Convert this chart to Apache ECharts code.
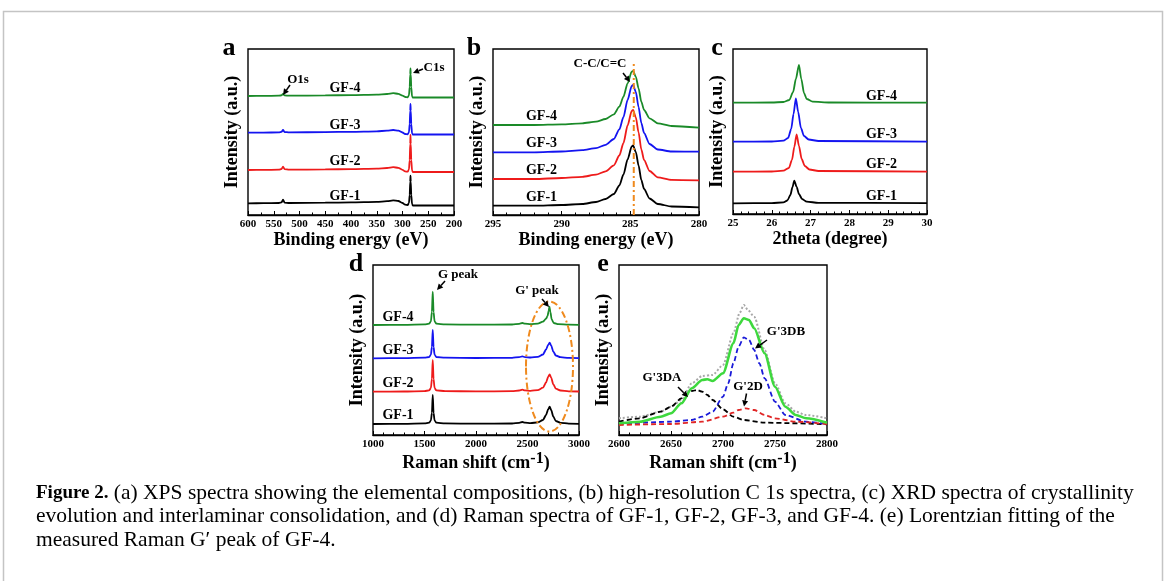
<!DOCTYPE html>
<html>
<head>
<meta charset="utf-8">
<title>Figure 2</title>
<script src="https://cdn.jsdelivr.net/npm/echarts@6/dist/echarts.min.js"></script>
<style>
  html, body { margin: 0; padding: 0; background: #fff; }
  #chart { width: 1167px; height: 581px; }
</style>
</head>
<body>
<div id="chart"></div>
<script>
// ---- (a) XPS survey, binding energy (eV) vs intensity (a.u., offset stacked)
const xpsGF1 = [[600,11.7],[570,11.8],[540,12],[535,12.6],[532,15.3],[529,12.4],[520,12],[450,12.3],[400,12.6],[350,13.1],[330,13.8],[318,14.6],[308,14],[300,12],[295,10.3],[290,10],[287.5,12],[286,20],[285,33],[284.5,39.3],[284,33],[283,20],[281.5,11],[280,9.5],[200,9.5]];
const xpsGF2 = [[600,45],[570,45.1],[540,45.3],[535,46],[532,48.3],[529,45.8],[520,45.3],[450,45.6],[400,45.9],[350,46.4],[330,47],[318,47.8],[308,47.2],[300,45.2],[295,43.6],[290,43.3],[287.5,45.5],[286,55],[285,71],[284.5,80],[284,71],[283,55],[281.5,44.5],[280,43],[200,43]];
const xpsGF3 = [[600,82.3],[570,82.4],[540,82.6],[535,83.1],[532,85],[529,83],[520,82.6],[450,82.9],[400,83.2],[350,83.7],[330,84.3],[318,85],[308,84.4],[300,82.5],[295,81],[290,80.7],[287.5,82.5],[286,91],[285,104],[284.5,111],[284,104],[283,91],[281.5,81.5],[280,80.5],[200,80.5]];
const xpsGF4 = [[600,119],[570,119.1],[540,119.3],[535,119.7],[532,121],[529,119.6],[520,119.3],[450,119.6],[400,119.9],[350,120.4],[330,121],[318,121.8],[308,121.2],[300,119.3],[295,118],[290,117.7],[287.5,119.5],[286,128],[285,140.5],[284.5,146.7],[284,140.5],[283,128],[281.5,118.5],[280,117.5],[200,117.5]];

// ---- (b) high-resolution C 1s
const c1sGF1 = [[295,9.3],[292,9.3],[290,10],[288.5,11],[287.5,13],[286.8,16],[286.2,21],[285.8,29.5],[285.5,40.5],[285.2,55.5],[284.9,68.5],[284.8,69.5],[284.6,63],[284.4,49.5],[284.2,35],[284,26],[283.6,16.5],[283,11],[282,8.5],[280,7.7]];
const c1sGF2 = [[295,36],[292,36],[290,37],[288.5,38.2],[287.5,40.3],[286.8,43.7],[286.2,49.7],[285.8,59.5],[285.5,72],[285.2,89.5],[284.9,104],[284.8,105],[284.6,97.7],[284.4,82.6],[284.2,65.5],[284,55],[283.6,44],[283,37.6],[282,35.2],[280,34.7]];
const c1sGF3 = [[295,62.7],[292,62.7],[290,63.5],[288.5,64.8],[287.5,66.8],[286.8,70.2],[286.2,76],[285.8,85.6],[285.5,98],[285.2,115],[284.9,129],[284.8,130],[284.6,123],[284.4,108],[284.2,92],[284,82],[283.6,71],[283,65.5],[282,63.5],[280,63.3]];
const c1sGF4 = [[295,90],[292,90],[290,90.7],[288.5,91.7],[287.5,93.3],[286.8,96],[286.2,100.7],[285.8,108.3],[285.5,118.3],[285.2,131.7],[284.9,143.3],[284.8,144],[284.6,138.3],[284.4,126.7],[284.2,113.3],[284,105],[283.6,96.7],[283,91.7],[282,89],[280,87.3]];
const ccGuide = [[284.75,0],[284.75,153]];

// ---- (c) XRD, 2theta (degree)
const xrdGF1 = [[25,10.7],[26,10.9],[26.3,11.6],[26.4,13.5],[26.48,19],[26.53,26.5],[26.58,33.3],[26.64,27],[26.7,20],[26.78,15],[26.9,12.3],[27.2,11.2],[30,10.8]];
const xrdGF2 = [[25,42.3],[26,42.5],[26.3,43.3],[26.44,46],[26.52,54],[26.58,67],[26.64,79.7],[26.7,68],[26.77,55],[26.85,48],[26.97,44.5],[27.2,43],[30,42.3]];
const xrdGF3 = [[25,72.3],[26,72.5],[26.3,73.3],[26.42,76],[26.5,85],[26.56,100],[26.62,115.7],[26.68,102],[26.75,86],[26.83,78],[26.95,74.5],[27.2,73],[30,72.3]];
const xrdGF4 = [[25,111.3],[26,111.5],[26.3,112],[26.45,114],[26.55,122],[26.62,135],[26.7,149],[26.76,135],[26.83,121],[26.9,115],[27.05,112.3],[27.5,111.5],[30,111.3]];

// ---- (d) Raman, shift (cm-1)
const ramanGF1 = [[1000,11],[1300,11.2],[1500,11.6],[1545,12.3],[1562,14.5],[1572,22],[1580,40],[1588,22],[1598,14.5],[1615,12.3],[1700,11.6],[2000,11.3],[2350,11.5],[2420,12.2],[2450,13],[2475,12.3],[2530,11.9],[2600,12.6],[2650,15],[2680,20],[2700,25.5],[2715,28.3],[2730,25],[2750,18.5],[2775,14],[2820,12.2],[2900,11.4],[3000,11.2]];
const ramanGF2 = [[1000,43.3],[1300,43.5],[1500,43.9],[1545,44.6],[1562,47],[1572,56],[1580,75],[1588,56],[1598,47],[1615,44.6],[1700,43.9],[2000,43.6],[2350,43.8],[2420,44.5],[2450,45.3],[2475,44.6],[2530,44.2],[2600,44.9],[2650,47.3],[2680,52.5],[2700,58],[2715,60.7],[2730,57.3],[2750,50.8],[2775,46.3],[2820,44.5],[2900,43.7],[3000,43.5]];
const ramanGF3 = [[1000,76.7],[1300,76.9],[1500,77.3],[1545,78],[1562,80.3],[1572,88],[1580,105],[1588,88],[1598,80.3],[1615,78],[1700,77.3],[2000,77],[2350,77.2],[2420,77.9],[2450,78.6],[2475,77.9],[2530,77.5],[2600,78.2],[2650,80.5],[2680,85.5],[2700,90],[2715,92.3],[2730,89.5],[2750,83.5],[2775,79.5],[2820,77.8],[2900,77.1],[3000,76.9]];
const ramanGF4 = [[1000,110],[1300,110.2],[1500,110.6],[1545,111.3],[1562,113.6],[1572,123],[1580,143.3],[1588,123],[1598,113.6],[1615,111.3],[1700,110.6],[2000,110.3],[2350,110.5],[2420,111.2],[2450,112],[2475,111.3],[2530,110.9],[2600,111.4],[2650,113.3],[2680,116.3],[2695,119],[2705,124],[2713,128.3],[2722,123],[2735,115.5],[2755,112],[2800,110.8],[2900,110.4],[3000,110.2]];

// ---- (e) Lorentzian fit of G' peak (GF-4)
const gMeasured = [[2600,16.7],[2620,18.3],[2640,23.3],[2650,28.3],[2660,35],[2670,51.7],[2680,59],[2690,60],[2700,70],[2710,101.7],[2716,122],[2720,130],[2724,125],[2730,118.3],[2740,85],[2750,51.7],[2760,31.7],[2770,23.3],[2780,20],[2800,16.7]];
const gFit = [[2600,11.7],[2620,13.3],[2640,18.3],[2650,21.7],[2660,31.7],[2670,46.7],[2680,55],[2685,55.7],[2690,54],[2700,61.7],[2710,91.7],[2715,110],[2720,116.7],[2725,115],[2730,106.7],[2740,81.7],[2750,48.3],[2760,28.3],[2770,20],[2780,16.7],[2800,12.3]];
const g3DB = [[2600,11],[2650,13.3],[2670,15],[2680,18.3],[2690,23.3],[2700,38.3],[2705,51.7],[2710,71.7],[2715,88.3],[2720,97.7],[2725,95],[2730,85],[2735,71.7],[2740,56.7],[2750,33.3],[2760,20],[2780,13.3],[2800,11]];
const g3DA = [[2600,13.3],[2620,16.7],[2640,23.3],[2650,28.3],[2660,36.7],[2665,41],[2670,44],[2675,45],[2680,43.3],[2685,40],[2690,35],[2700,25.7],[2710,18.3],[2720,15],[2740,12.3],[2800,10.7]];
const g2D = [[2600,10],[2650,11],[2680,13.3],[2700,18.3],[2710,22.3],[2715,25],[2722,26.7],[2730,25],[2740,20],[2750,16.7],[2770,13.3],[2800,11]];

const sampleNames = ['GF-1', 'GF-2', 'GF-3', 'GF-4'];
const caption = [
  '{b|Figure 2.} (a) XPS spectra showing the elemental compositions, (b) high-resolution C 1s spectra, (c) XRD spectra of crystallinity',
  'evolution and interlaminar consolidation, and (d) Raman spectra of GF-1, GF-2, GF-3, and GF-4. (e) Lorentzian fitting of the',
  'measured Raman G\u2032 peak of GF-4.'
];

const FONT = '"Liberation Serif", "Times New Roman", serif';
const colors = ['#000000', '#ee1b1b', '#1414f0', '#1a8a28'];

const chart = echarts.init(document.getElementById('chart'));

// grids: a, b, c, d, e
const grids = [
  { left: 248, top: 49, width: 206, height: 166 },
  { left: 493, top: 49, width: 206, height: 166 },
  { left: 733, top: 49, width: 194, height: 165 },
  { left: 373, top: 265, width: 206, height: 170 },
  { left: 619, top: 265, width: 208, height: 170 }
];

function xAxis(i, min, max, interval, minorSplit, inverse, name) {
  return {
    gridIndex: i, type: 'value', min, max, interval, inverse,
    axisLine: { show: true, lineStyle: { color: '#000', width: 1.4 } },
    axisTick: { show: true, inside: true, length: 4, lineStyle: { color: '#000', width: 1 } },
    minorTick: { show: true, splitNumber: minorSplit, length: 2.5, lineStyle: { color: '#000', width: 1 } },
    axisLabel: { margin: 4, fontSize: 11, fontWeight: 'bold', fontFamily: FONT, color: '#000', formatter: v => String(v) },
    splitLine: { show: false },
    name, nameLocation: 'middle', nameGap: 15,
    nameTextStyle: {
      fontSize: 18, fontWeight: 'bold', fontFamily: FONT, color: '#000',
      rich: { sup: { fontSize: 16, fontWeight: 'bold', fontFamily: FONT, padding: [0, 0, 8, 0] } }
    }
  };
}

function yAxis(i, h) {
  return {
    gridIndex: i, type: 'value', min: 0, max: h,
    axisLine: { show: false }, axisTick: { show: false }, axisLabel: { show: false },
    splitLine: { show: false },
    name: 'Intensity (a.u.)', nameLocation: 'middle', nameGap: 7,
    nameTextStyle: { fontSize: 18, fontWeight: 'bold', fontFamily: FONT, color: '#000' }
  };
}

function spec(i, data, color, extra) {
  return Object.assign({
    type: 'line', xAxisIndex: i, yAxisIndex: i, data,
    symbol: 'none', smooth: 0.25, smoothMonotone: 'x',
    lineStyle: { color, width: 1.8 }, silent: true
  }, extra || {});
}

const series = [];
[xpsGF1, xpsGF2, xpsGF3, xpsGF4].forEach((d, k) => series.push(spec(0, d, colors[k])));
[c1sGF1, c1sGF2, c1sGF3, c1sGF4].forEach((d, k) => series.push(spec(1, d, colors[k])));
series.push(spec(1, ccGuide, '#ef8a1e', { smooth: false, lineStyle: { color: '#ef8a1e', width: 2, type: [6, 3, 2, 3] } }));
[xrdGF1, xrdGF2, xrdGF3, xrdGF4].forEach((d, k) => series.push(spec(2, d, colors[k])));
[ramanGF1, ramanGF2, ramanGF3, ramanGF4].forEach((d, k) => series.push(spec(3, d, colors[k])));
series.push(spec(4, gMeasured, '#a8a8a8', { lineStyle: { color: '#a8a8a8', width: 2, type: [2, 2] } }));
series.push(spec(4, g3DA, '#000', { lineStyle: { color: '#000', width: 1.8, type: [5, 3] } }));
series.push(spec(4, g3DB, '#1a1ad8', { lineStyle: { color: '#1a1ad8', width: 1.8, type: [5, 3] } }));
series.push(spec(4, g2D, '#e02626', { lineStyle: { color: '#e02626', width: 1.8, type: [5, 3] } }));
series.push(spec(4, gFit, '#3ed83e', { lineStyle: { color: '#3ed83e', width: 2.6 } }));

// annotation helpers
function txt(x, y, text, size, extra) {
  return {
    type: 'text', x, y, z: 100,
    style: Object.assign({ text, font: 'bold ' + size + 'px ' + FONT, fill: '#000', align: 'center', verticalAlign: 'middle' }, extra || {})
  };
}
function arrow(x1, y1, x2, y2) {
  const a = Math.atan2(y2 - y1, x2 - x1), h = 6, w = 3;
  const bx = x2 - h * Math.cos(a), by = y2 - h * Math.sin(a);
  return [
    { type: 'line', z: 100, shape: { x1, y1, x2: bx, y2: by }, style: { stroke: '#000', lineWidth: 1.5 } },
    { type: 'polygon', z: 100, shape: { points: [[x2, y2], [bx - w * Math.sin(a), by + w * Math.cos(a)], [bx + w * Math.sin(a), by - w * Math.cos(a)]] }, style: { fill: '#000' } }
  ];
}

const labelPos = {
  a: [[345, 196], [345, 161.5], [345, 125], [345, 88]],
  b: [[541.5, 197], [541.5, 170], [541.5, 143], [541.5, 116.5]],
  c: [[881.5, 196.5], [881.5, 164], [881.5, 134], [881.5, 96]],
  d: [[398, 415.5], [398, 383], [398, 350], [398, 317]]
};

const graphic = [
  { type: 'rect', z: 1, shape: { x: 3.5, y: 11.5, width: 1159, height: 620 }, style: { fill: 'none', stroke: '#c4c4c4', lineWidth: 1.5 } },
  txt(229, 48, 'a', 26), txt(474, 48, 'b', 26), txt(717, 48, 'c', 26),
  txt(356, 264, 'd', 26), txt(603, 264, 'e', 26),
  txt(298, 80, 'O1s', 13), txt(434, 68, 'C1s', 13),
  ...arrow(290, 85, 283, 95), ...arrow(423, 69, 413, 73),
  txt(600, 64, 'C-C/C=C', 13), ...arrow(623, 73, 630, 82),
  txt(458, 275, 'G peak', 13), ...arrow(445, 281, 437, 290),
  txt(537, 291, "G' peak", 13), ...arrow(542, 299, 549, 307),
  { type: 'ellipse', z: 90, shape: { cx: 549.5, cy: 366.5, rx: 23.5, ry: 65 }, style: { fill: 'none', stroke: '#ef8a1e', lineWidth: 2, lineDash: [7, 3, 2, 3] } },
  txt(662, 378, "G'3DA", 13), ...arrow(678, 387, 688, 397),
  txt(786, 332, "G'3DB", 13), ...arrow(767, 340, 755, 348.5),
  txt(748, 387, "G'2D", 13), ...arrow(746.5, 393.5, 744, 406.5)
];
['a', 'b', 'c', 'd'].forEach(p => labelPos[p].forEach((xy, k) => graphic.push(txt(xy[0], xy[1], sampleNames[k], 14))));

caption.forEach((line, k) => graphic.push({
  type: 'text', x: 36, y: 493 + k * 23.5, z: 100,
  style: {
    text: line, font: '21.5px ' + FONT, fill: '#000', align: 'left', verticalAlign: 'middle',
    rich: { b: { font: 'bold 19px ' + FONT, fill: '#000' } }
  }
}));

const option = {
  animation: false,
  grid: grids.map(g => Object.assign({ show: true, borderColor: '#000', borderWidth: 1.4, containLabel: false }, g)),
  xAxis: [
    xAxis(0, 200, 600, 50, 2, true, 'Binding energy (eV)'),
    xAxis(1, 280, 295, 5, 5, true, 'Binding energy (eV)'),
    xAxis(2, 25, 30, 1, 5, false, '2theta (degree)'),
    xAxis(3, 1000, 3000, 500, 5, false, 'Raman shift (cm{sup|-1})'),
    xAxis(4, 2600, 2800, 50, 5, false, 'Raman shift (cm{sup|-1})')
  ],
  yAxis: grids.map((g, i) => yAxis(i, g.height)),
  series,
  graphic
};
chart.setOption(option);
</script>
</body>
</html>
